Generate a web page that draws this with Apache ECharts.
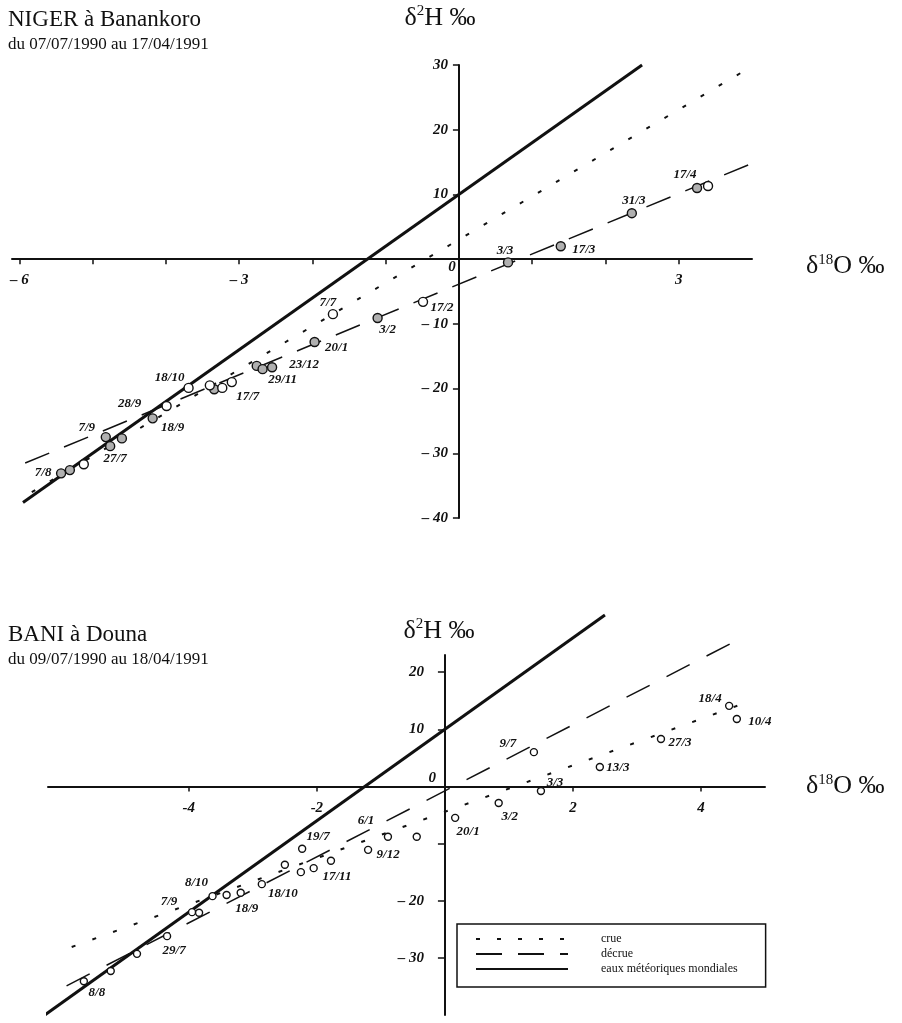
<!DOCTYPE html>
<html>
<head>
<meta charset="utf-8">
<script src="https://cdn.jsdelivr.net/npm/echarts@6/dist/echarts.min.js"></script>
<style>
html,body{margin:0;padding:0;background:#fff;}
#chart{width:902px;height:1023px;}
</style>
</head>
<body>
<div id="chart"></div>
<script>
// ---------- DATA ----------
// Top chart: NIGER à Banankoro (grey-filled and white points)
const topGreyX = [-5.43, -5.31, -4.82, -4.76, -4.60, -4.18, -3.34, -2.76, -2.68, -2.55, -1.97, -1.11, 0.67, 1.39, 2.36, 3.25];
const topGreyY = [-33.1, -32.6, -27.5, -28.9, -27.7, -24.6, -20.1, -16.5, -17.0, -16.7, -12.8, -9.1, -0.5, 2.0, 7.1, 11.0];
const topGreyLab = ['7/8', '', '7/9', '27/7', '', '18/9', '', '', '29/11', '23/12', '20/1', '3/2', '3/3', '17/3', '31/3', '17/4'];
const topWhiteX = [-5.12, -3.99, -3.69, -3.40, -3.23, -3.10, -1.72, -0.49, 3.40];
const topWhiteY = [-31.7, -22.7, -19.9, -19.5, -19.9, -19.0, -8.5, -6.6, 11.3];
const topWhiteLab = ['', '28/9', '18/10', '', '', '17/7', '7/7', '17/2', ''];
// Top chart lines (endpoints)
const topGMWL = [[-5.95, -37.6], [2.5, 30]];
const topCrue = [[-5.83, -36.0], [4.0, 29.8]];
const topDecrue = [[-5.92, -31.5], [4.0, 14.8]];

// Bottom chart: BANI à Douna
const botX = [-5.64, -5.22, -4.81, -4.34, -3.95, -3.84, -3.63, -3.41, -3.19, -2.86, -2.50, -2.23, -2.25, -2.05, -1.78, -1.20, -0.89, -0.44, 0.16, 0.84, 1.50, 1.39, 2.42, 3.375, 4.44, 4.56];
const botY = [-34.1, -32.3, -29.3, -26.2, -22.0, -22.1, -19.2, -19.0, -18.6, -17.1, -13.7, -10.9, -15.0, -14.3, -13.0, -11.1, -8.8, -8.8, -5.5, -2.9, -0.8, 6.0, 3.4, 8.3, 14.1, 11.8];
const botLab = ['8/8', '', '', '29/7', '7/9', '', '8/10', '', '18/9', '18/10', '', '19/7', '', '', '17/11', '9/12', '6/1', '', '20/1', '3/2', '3/3', '9/7', '13/3', '27/3', '18/4', '10/4'];
const botGMWL = [[-6.25, -40], [2.5, 30]];
const botCrue = [[-5.83, -28.1], [4.81, 15.1]];
const botDecrue = [[-5.91, -34.9], [4.48, 25.1]];

// Axis ranges, ticks and labels
const topXRange = [-6.1, 4.0];
const topYRange = [-40, 30];
const botXRange = [-6.2, 5.0];
const botYRange = [-40, 23];
const topXTicks = [-6, -5, -4, -3, -2, -1, 0, 1, 2, 3];
const topXLabels = [-6, -3, 0, 3];
const topYTicks = [-40, -30, -20, -10, 0, 10, 20, 30];
const botXTicks = [-4, -2, 0, 2, 4];
const botXLabels = [-4, -2, 2, 4];
const botYTicks = [-30, -20, -10, 0, 10, 20];
const botYLabels = [-30, -20, 0, 10, 20];

// ---------- LAYOUT ----------
const grids = [
  {left: 12, top: 65, width: 740, height: 453},
  {left: 48, top: 655, width: 717, height: 360}
];
// label offsets (px) relative to their point
const topOff = {
  '7/8': [-18, -1], '7/9': [-19, -9], '27/7': [5, 12], '28/9': [-37, -2], '18/9': [20, 9],
  '18/10': [-19, -10], '17/7': [16, 15], '29/11': [20, 10], '23/12': [32, -3], '20/1': [22, 6],
  '7/7': [-5, -12], '3/2': [10, 12], '17/2': [19, 6], '3/3': [-3, -12], '17/3': [23, 3],
  '31/3': [2, -13], '17/4': [-12, -13]
};
const botOff = {
  '8/8': [13, 11], '29/7': [7, 14], '7/9': [-23, -11], '8/10': [-16, -14], '18/9': [6, 16],
  '18/10': [21, 9], '19/7': [16, -12], '17/11': [6, 16], '9/12': [20, 5], '6/1': [-22, -16],
  '20/1': [13, 14], '3/2': [11, 14], '3/3': [14, -8], '9/7': [-26, -9], '13/3': [18, 1],
  '27/3': [19, 4], '18/4': [-19, -7], '10/4': [23, 3]
};

const FONT = 'Liberation Serif';
const INK = '#111';
const ptLabelStyle = {fontFamily: FONT, fontStyle: 'italic', fontWeight: 'bold', fontSize: 13, color: INK};
const axLabelStyle = {fontFamily: FONT, fontStyle: 'italic', fontWeight: 'bold', fontSize: 15, color: INK};
const minus = v => v < 0 ? '– ' + (-v) : '' + v;
// offset that brings an axis from the grid edge to the other axis' zero
const zeroOffset = (range, size) => -((0 - range[0]) / (range[1] - range[0])) * size;

function pts(name, xs, ys, labs, offs, gi, size, fill) {
  return {
    type: 'scatter', name: name, xAxisIndex: gi, yAxisIndex: gi, symbol: 'circle', symbolSize: size, z: 5,
    silent: true,
    itemStyle: {color: fill, borderColor: INK, borderWidth: 1.4, opacity: 1},
    label: Object.assign({show: false, position: 'inside', formatter: p => p.name}, ptLabelStyle),
    data: xs.map((x, i) => ({
      value: [x, ys[i]], name: labs[i],
      label: labs[i] ? {show: true, offset: offs[labs[i]] || [0, 0]} : {show: false}
    }))
  };
}
function line(name, data, gi, type, width) {
  return {
    type: 'line', name: name, xAxisIndex: gi, yAxisIndex: gi, data: data, symbol: 'none', silent: true, z: 3,
    clip: false,
    itemStyle: {color: 'rgba(0,0,0,0)'},
    lineStyle: {color: INK, width: width, type: type, cap: 'butt'}
  };
}
const nameRich = {
  b: {fontFamily: FONT, fontSize: 26, color: INK},
  s: {fontFamily: FONT, fontSize: 15, color: INK, padding: [0, 0, 13, 0]}
};

const chart = echarts.init(document.getElementById('chart'), null, {renderer: 'canvas'});
const axLine = {onZero: false, lineStyle: {color: INK, width: 2}};

const option = {
  animation: false,
  backgroundColor: '#fff',
  title: [
    {text: 'NIGER à Banankoro', subtext: 'du 07/07/1990 au 17/04/1991', left: 3, top: 3, itemGap: 5,
     textStyle: {fontFamily: FONT, fontSize: 23, fontWeight: 'normal', color: INK},
     subtextStyle: {fontFamily: FONT, fontSize: 17, color: INK}},
    {text: 'BANI à Douna', subtext: 'du 09/07/1990 au 18/04/1991', left: 3, top: 618, itemGap: 5,
     textStyle: {fontFamily: FONT, fontSize: 23, fontWeight: 'normal', color: INK},
     subtextStyle: {fontFamily: FONT, fontSize: 17, color: INK}}
  ],
  legend: {
    data: ['crue', 'décrue', 'eaux météoriques mondiales'],
    orient: 'vertical', left: 457, top: 924, itemWidth: 92, itemHeight: 10, itemGap: 3,
    padding: [9, 28, 12, 18], borderColor: INK, borderWidth: 1.5, backgroundColor: '#fff',
    selectedMode: false,
    itemStyle: {opacity: 0},
    textStyle: {fontFamily: FONT, fontSize: 12, color: INK, padding: [0, 0, 0, 28]}
  },
  grid: grids.map(g => Object.assign({containLabel: false, outerBoundsMode: 'none'}, g)),
  xAxis: [
    {type: 'value', gridIndex: 0, min: topXRange[0], max: topXRange[1], splitLine: {show: false}, axisLine: axLine,
     position: 'bottom', offset: zeroOffset(topYRange, grids[0].height),
     name: '{b|δ}{s|18}{b|O ‰}', nameLocation: 'end', nameGap: 54,
     nameTextStyle: {padding: [14, 0, 0, 0], rich: nameRich},
     axisTick: {customValues: topXTicks, length: 5, lineStyle: {color: INK, width: 1.5}},
     axisLabel: {customValues: topXLabels, margin: 0,
       formatter: v => v === 0 ? '{z|0}' : '{n|' + minus(v) + '}',
       rich: {n: Object.assign({padding: [13, 0, 0, 0]}, axLabelStyle),
              z: Object.assign({padding: [0, 14, 0, 0]}, axLabelStyle)}}},
    {type: 'value', gridIndex: 1, min: botXRange[0], max: botXRange[1], splitLine: {show: false}, axisLine: axLine,
     position: 'bottom', offset: zeroOffset(botYRange, grids[1].height),
     name: '{b|δ}{s|18}{b|O ‰}', nameLocation: 'end', nameGap: 41,
     nameTextStyle: {rich: nameRich},
     axisTick: {customValues: botXTicks, length: 5, lineStyle: {color: INK, width: 1.5}},
     axisLabel: Object.assign({customValues: botXLabels, margin: 14, formatter: v => '' + v}, axLabelStyle)}
  ],
  yAxis: [
    {type: 'value', gridIndex: 0, min: topYRange[0], max: topYRange[1], splitLine: {show: false}, axisLine: axLine,
     position: 'left', offset: zeroOffset(topXRange, grids[0].width),
     name: '{b|δ}{s|2}{b|H ‰}', nameLocation: 'end', nameGap: 33,
     nameTextStyle: {padding: [0, 38, 0, 0], rich: nameRich},
     axisTick: {customValues: topYTicks, length: 6, lineStyle: {color: INK, width: 1.5}},
     axisLabel: Object.assign({customValues: topYTicks, margin: 11, formatter: v => v === 0 ? '' : minus(v)}, axLabelStyle)},
    {type: 'value', gridIndex: 1, min: botYRange[0], max: botYRange[1], splitLine: {show: false}, axisLine: axLine,
     position: 'left', offset: zeroOffset(botXRange, grids[1].width),
     name: '{b|δ}{s|2}{b|H ‰}', nameLocation: 'end', nameGap: 10,
     nameTextStyle: {padding: [0, 12, 0, 0], rich: nameRich},
     axisTick: {customValues: botYTicks, length: 7, lineStyle: {color: INK, width: 1.5}},
     axisLabel: {customValues: botYLabels, margin: 9,
       formatter: v => v === 0 ? '{z|0}' : '{n|' + minus(v) + '}',
       rich: {n: Object.assign({padding: [0, 12, 0, 0]}, axLabelStyle),
              z: Object.assign({padding: [0, 0, 16, 0]}, axLabelStyle)}}}
  ],
  series: [
    line('crue', topCrue, 0, [4, 17], 2),
    line('décrue', topDecrue, 0, [26, 16], 1.5),
    line('eaux météoriques mondiales', topGMWL, 0, 'solid', 3),
    line('crue', botCrue, 1, [4, 18], 2),
    line('décrue', botDecrue, 1, [26, 19], 1.5),
    line('eaux météoriques mondiales', botGMWL, 1, 'solid', 3),
    pts('Niger grey', topGreyX, topGreyY, topGreyLab, topOff, 0, 9, '#b0b0b0'),
    pts('Niger white', topWhiteX, topWhiteY, topWhiteLab, topOff, 0, 9, '#ffffff'),
    pts('Bani', botX, botY, botLab, botOff, 1, 7, '#ffffff')
  ]
};
chart.setOption(option);
</script>
</body>
</html>
